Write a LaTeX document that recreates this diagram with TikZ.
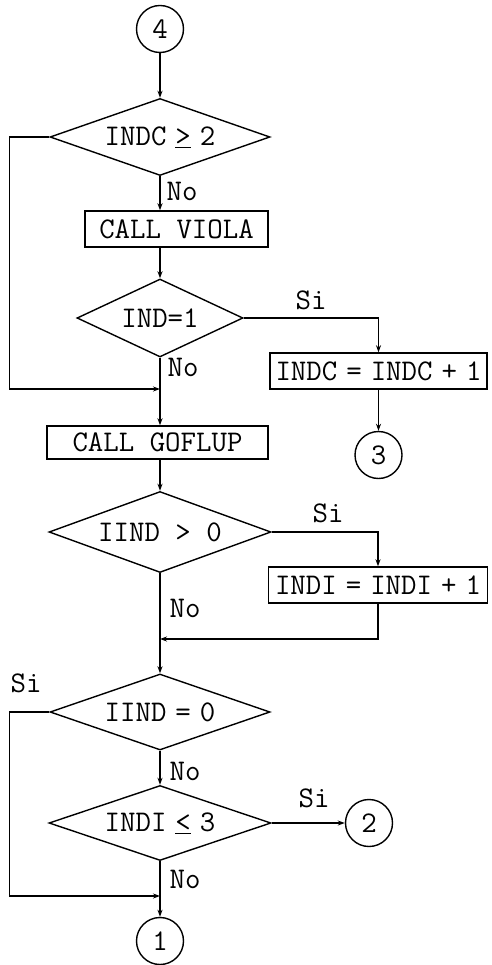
\documentclass[tikz,border=0pt]{standalone}
\usetikzlibrary{shapes.geometric,arrows.meta}
\newcommand{\gap}{\hspace{.3em}}
\begin{document}
\begin{tikzpicture}[x=1pt, y=-1pt, line width=1.4pt,
    font=\ttfamily\fontsize{30}{34}\selectfont,
    decision/.style={draw, diamond, shape aspect=2.8, inner sep=0pt},
    callbox/.style={draw, rectangle, inner sep=0pt, minimum height=36pt},
    connector/.style={draw, circle, inner sep=0pt, minimum size=47pt},
    lbl/.style={inner sep=0pt},
    flow/.style={-{Stealth[length=7pt,width=5pt]}}]
  \useasboundingbox (0,0) rectangle (491,965);
  % bloques del diagrama
  \node[connector] (c4) at (160,29) {4};
  \node[decision, minimum width=220pt, minimum height=77pt] (d1) at (160,137) {INDC\gap\underline{>}\gap2\hspace{24pt}};
  \node[callbox, minimum width=183pt] (viola) at (176.5,229) {CALL VIOLA};
  \node[decision, minimum width=166pt, minimum height=78pt] (d2) at (160,318) {IND=1\hspace{24pt}};
  \node[callbox, minimum width=217pt] (indc) at (378.5,371) {INDC\gap=\gap INDC\gap+\gap1};
  \node[connector] (c3) at (378.5,455) {3};
  \node[callbox, minimum width=221pt, minimum height=33pt] (goflup) at (157.5,442.5) {CALL GOFLUP};
  \node[decision, minimum width=222pt, minimum height=81pt] (d3) at (160,532) {IIND > 0\hspace{16pt}};
  \node[callbox, minimum width=219pt] (indi) at (378,585) {INDI\gap=\gap INDI\gap+\gap1};
  \node[decision, minimum width=220pt, minimum height=76pt] (d4) at (160,712) {IIND\gap=\gap0\hspace{28pt}};
  \node[decision, minimum width=222pt, minimum height=75pt] (d5) at (160,823) {INDI\gap\underline{<}\gap3\hspace{26pt}};
  \node[connector] (c2) at (369,823) {2};
  \node[connector] (c1) at (160,941) {1};
  \coordinate (j1) at (160,389);
  \coordinate (j2) at (160,639);
  \coordinate (j3) at (160,896);
  % conexiones
  \draw[flow] (c4.south) -- (d1.north);
  \draw[flow] (d1.south) -- (d1.south |- viola.north);
  \draw[flow] (d1.south |- viola.south) -- (d2.north);
  \draw[flow] (d2.east) -| (indc.north);
  \draw[flow] (indc.south) -- (c3.north);
  \draw[flow] (d2.south) -- (d2.south |- goflup.north);
  \draw[flow] (d1.west) -- ++(-40,0) |- (j1);
  \draw[flow] (d3.north |- goflup.south) -- (d3.north);
  \draw[flow] (d3.east) -| (indi.north);
  \draw[flow] (indi.south) |- (j2);
  \draw[flow] (d3.south) -- (d4.north);
  \draw[flow] (d4.west) -- ++(-40,0) |- (j3);
  \draw[flow] (d4.south) -- (d5.north);
  \draw[flow] (d5.east) -- (c2.west);
  \draw[flow] (d5.south) -- (c1.north);
  % etiquetas
  \node[lbl] (no1) at (182,191) {No};
  \node[lbl] (si1) at (311,300) {Si};
  \node[lbl] (no2) at (183,367) {No};
  \node[lbl] (si2) at (328,513) {Si};
  \node[lbl] (no3) at (185,608) {No};
  \node[lbl] (si3) at (26,683) {Si};
  \node[lbl] (no4) at (185,771) {No};
  \node[lbl] (si4) at (314,798) {Si};
  \node[lbl] (no5) at (185,879) {No};
\end{tikzpicture}
\end{document}
